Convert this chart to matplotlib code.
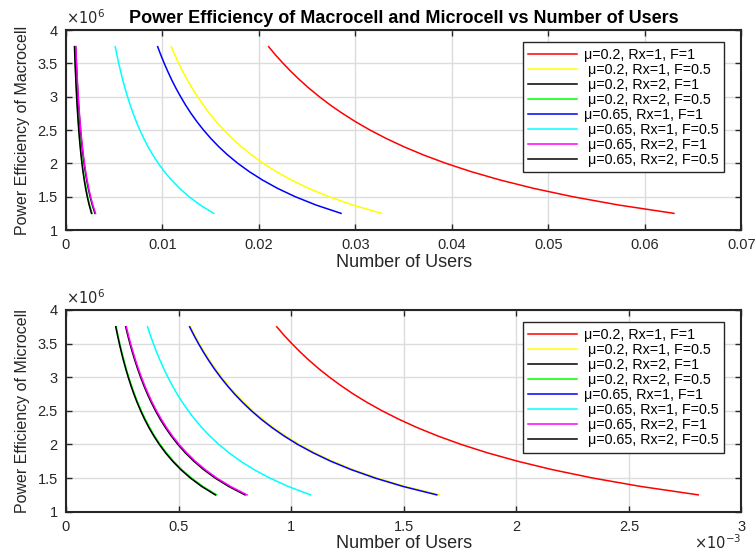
import matplotlib
matplotlib.use('Agg')
import matplotlib.pyplot as plt
from matplotlib.ticker import FuncFormatter, MultipleLocator

plt.rcParams['font.family'] = ['Liberation Sans', 'DejaVu Sans']

# power efficiency levels (same for every curve)
eff = [3.75e6, 3.625e6, 3.5e6, 3.375e6, 3.25e6, 3.125e6, 3.0e6, 2.875e6, 2.75e6, 2.625e6,
       2.5e6, 2.375e6, 2.25e6, 2.125e6, 2.0e6, 1.875e6, 1.75e6, 1.625e6, 1.5e6, 1.375e6, 1.25e6]

labels = ['μ=0.2, Rx=1, F=1', ' μ=0.2, Rx=1, F=0.5', ' μ=0.2, Rx=2, F=1',
          ' μ=0.2, Rx=2, F=0.5', 'μ=0.65, Rx=1, F=1', ' μ=0.65, Rx=1, F=0.5',
          ' μ=0.65, Rx=2, F=1', ' μ=0.65, Rx=2, F=0.5']

# macrocell: number of users (x 1e-3) at each efficiency level
macro_red = [21.0, 21.72, 22.5, 23.33, 24.23, 25.2, 26.25, 27.39, 28.64, 30.0, 31.5,
             33.16, 35.0, 37.06, 39.38, 42.0, 45.0, 48.46, 52.5, 57.27, 63.0]
macro_yellow = [10.9, 11.28, 11.68, 12.11, 12.58, 13.08, 13.63, 14.22, 14.86, 15.57, 16.35,
                17.21, 18.17, 19.24, 20.44, 21.8, 23.36, 25.15, 27.25, 29.73, 32.7]
macro_black1 = [0.88, 0.910, 0.943, 0.978, 1.015, 1.056, 1.1, 1.148, 1.2, 1.257, 1.32,
                1.389, 1.467, 1.553, 1.65, 1.76, 1.886, 2.031, 2.2, 2.4, 2.64]
macro_green = [0.9, 0.931, 0.964, 1.0, 1.038, 1.08, 1.125, 1.174, 1.227, 1.286, 1.35,
               1.421, 1.5, 1.588, 1.688, 1.8, 1.929, 2.077, 2.25, 2.455, 2.7]
macro_blue = [9.5, 9.828, 10.18, 10.56, 10.96, 11.4, 11.88, 12.39, 12.95, 13.57, 14.25,
              15.0, 15.83, 16.76, 17.81, 19.0, 20.36, 21.92, 23.75, 25.91, 28.5]
macro_cyan = [5.1, 5.276, 5.464, 5.667, 5.885, 6.12, 6.375, 6.652, 6.955, 7.286, 7.65,
              8.053, 8.5, 9.0, 9.563, 10.2, 10.93, 11.77, 12.75, 13.91, 15.3]
macro_magenta = [1.02, 1.055, 1.093, 1.133, 1.177, 1.224, 1.275, 1.33, 1.391, 1.457, 1.53,
                 1.611, 1.7, 1.8, 1.913, 2.04, 2.186, 2.354, 2.55, 2.782, 3.06]
macro_black2 = [1.0, 1.034, 1.071, 1.111, 1.154, 1.2, 1.25, 1.304, 1.364, 1.429, 1.5,
                1.579, 1.667, 1.765, 1.875, 2.0, 2.143, 2.308, 2.5, 2.727, 3.0]

# microcell: number of users (x 1e-3)
micro_red = [0.936, 0.968, 1.003, 1.04, 1.08, 1.123, 1.17, 1.221, 1.276, 1.337, 1.404,
             1.478, 1.56, 1.652, 1.755, 1.872, 2.006, 2.16, 2.34, 2.553, 2.808]
micro_yellow = [0.553, 0.572, 0.5925, 0.6144, 0.6381, 0.6636, 0.6913, 0.7213, 0.7541, 0.79, 0.8295,
                0.8732, 0.9217, 0.9759, 1.037, 1.106, 1.185, 1.276, 1.383, 1.508, 1.659]
micro_black1 = [0.221, 0.2286, 0.2368, 0.2456, 0.255, 0.2652, 0.2763, 0.2883, 0.3014, 0.3157, 0.3315,
                0.3489, 0.3683, 0.39, 0.4144, 0.442, 0.4736, 0.51, 0.5525, 0.6027, 0.663]
micro_green = [0.223, 0.2307, 0.2389, 0.2478, 0.2573, 0.2676, 0.2788, 0.2909, 0.3041, 0.3186, 0.3345,
               0.3521, 0.3717, 0.3935, 0.4181, 0.446, 0.4779, 0.5146, 0.5575, 0.6082, 0.669]
micro_blue = [0.549, 0.5679, 0.5882, 0.61, 0.6335, 0.6588, 0.6863, 0.7161, 0.7486, 0.7843, 0.8235,
              0.8668, 0.915, 0.9688, 1.029, 1.098, 1.176, 1.267, 1.373, 1.497, 1.647]
micro_cyan = [0.362, 0.3745, 0.3879, 0.4022, 0.4177, 0.4344, 0.4525, 0.4722, 0.4936, 0.5171, 0.543,
              0.5716, 0.6033, 0.6388, 0.6788, 0.724, 0.7757, 0.8354, 0.905, 0.9873, 1.086]
micro_magenta = [0.268, 0.2772, 0.2871, 0.2978, 0.3092, 0.3216, 0.335, 0.3496, 0.3655, 0.3829, 0.402,
                 0.4232, 0.4467, 0.4729, 0.5025, 0.536, 0.5743, 0.6185, 0.67, 0.7309, 0.804]
micro_black2 = [0.265, 0.2741, 0.2839, 0.2944, 0.3058, 0.318, 0.3313, 0.3457, 0.3614, 0.3786, 0.3975,
                0.4184, 0.4417, 0.4676, 0.4969, 0.53, 0.5679, 0.6115, 0.6625, 0.7227, 0.795]

macro = [macro_red, macro_yellow, macro_black1, macro_green,
         macro_blue, macro_cyan, macro_magenta, macro_black2]
micro = [micro_red, micro_yellow, micro_black1, micro_green,
         micro_blue, micro_cyan, micro_magenta, micro_black2]

colors = ['#ff0000', '#ffff00', '#000000', '#00ff00',
          '#0000ff', '#00ffff', '#ff00ff', '#000000']
# green and the last black sit under their neighbours, as in the original
zorders = [2, 2, 2.2, 2.1, 2, 2, 2.2, 2.1]

txt = '#262626'


def style_axes(ax):
    ax.grid(True, color='#dcdcdc', linewidth=1)
    ax.set_axisbelow(True)
    for s in ax.spines.values():
        s.set_color(txt)
        s.set_linewidth(1.5)
    ax.tick_params(direction='in', top=True, right=True, length=4,
                   width=1, labelsize=10.5, colors=txt, pad=6)
    ax.set_ylim(1e6, 4e6)
    ax.yaxis.set_major_locator(MultipleLocator(0.5e6))
    ax.yaxis.set_major_formatter(FuncFormatter(lambda v, p: f"{v/1e6:g}"))
    ax.text(0.0, 1.015, r'$\times10^{6}$', transform=ax.transAxes,
            fontsize=10.5, color=txt, ha='left', va='bottom')
    ax.set_xlabel('Number of Users', fontsize=13, color=txt, labelpad=1)
    ax.legend(loc='upper right', fontsize=10.3, frameon=True, fancybox=False,
              edgecolor=txt, framealpha=1, handlelength=3.4,
              handletextpad=0.45, labelspacing=0.07, borderpad=0.4,
              borderaxespad=0, bbox_to_anchor=(0.974, 0.94))


def plot_set(ax, series):
    for xs, c, z, lab in zip(series, colors, zorders, labels):
        ax.plot([v * 1e-3 for v in xs], eff, color=c, linewidth=1.1,
                zorder=z, label=lab)


fig = plt.figure(figsize=(7.56, 5.54), dpi=100)
ax1 = fig.add_axes([0.0873, 0.5848, 0.8935, 0.3610])
ax2 = fig.add_axes([0.0873, 0.0764, 0.8935, 0.3641])

plot_set(ax1, macro)
ax1.set_xlim(0, 0.07)
ax1.xaxis.set_major_locator(MultipleLocator(0.01))
ax1.xaxis.set_major_formatter(FuncFormatter(lambda v, p: f"{v:.2f}".rstrip('0').rstrip('.') if v else '0'))
ax1.set_ylabel('Power Efficiency of Macrocell', fontsize=11.5, color=txt, labelpad=5.5)
ax1.set_title('Power Efficiency of Macrocell and Microcell vs Number of Users',
              fontsize=13, fontweight='bold', pad=5)
style_axes(ax1)

plot_set(ax2, micro)
ax2.set_xlim(0, 3e-3)
ax2.xaxis.set_major_locator(MultipleLocator(0.5e-3))
ax2.xaxis.set_major_formatter(FuncFormatter(lambda v, p: f"{v*1e3:g}"))
ax2.set_ylabel('Power Efficiency of Microcell', fontsize=11.5, color=txt, labelpad=5.5)
style_axes(ax2)
ax2.text(1.0, -0.105, r'$\times10^{-3}$', transform=ax2.transAxes,
         fontsize=10.5, color=txt, ha='right', va='top')

fig.savefig('out.png', dpi=100)
